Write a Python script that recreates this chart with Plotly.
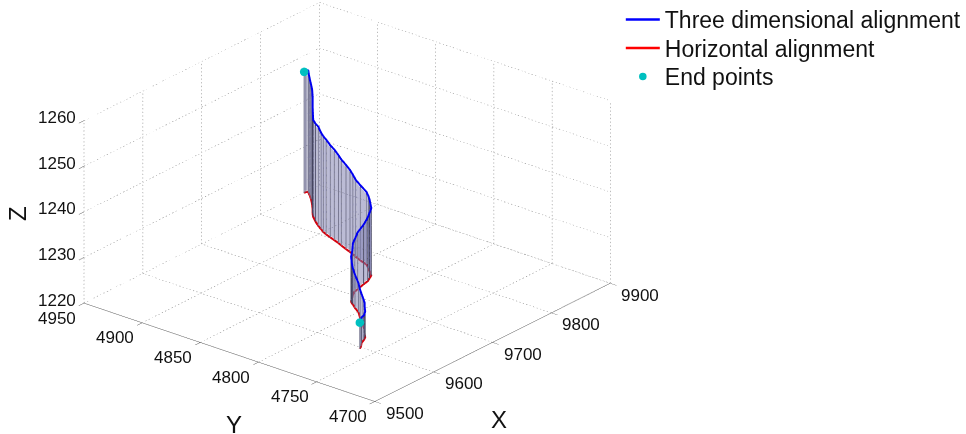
import numpy as np
import plotly.graph_objects as go

x_ticks = [9500, 9600, 9700, 9800, 9900]
y_ticks = [4700, 4750, 4800, 4850, 4900, 4950]
z_ticks = [1220, 1230, 1240, 1250, 1260]

road_x = [9872,9875,9877,9874,9870,9864,9854,9845,9837,9830,9822,9815,9810,9806,9803,9800,9797,9794,9791,9787,9784,9781,9778,9774,9770,9764,9758,9751,9744,9737,9728,9714,9707,9700,9693,9685,9682,9680,9674,9668,9657,9644,9637,9629,9622,9616,9608,9601,9595]
road_y = [4949,4949,4948,4946,4943,4939,4933,4928,4924,4920,4914,4908,4903,4899,4895,4890,4885,4880,4876,4870,4865,4861,4857,4851,4844,4839,4835,4830,4828,4826,4825,4823,4822,4820,4817,4814,4812,4810,4805,4799,4792,4783,4778,4774,4770,4768,4766,4763,4761]
road_z = [1246.7,1246.8,1246.8,1246.3,1245.6,1245.3,1245.3,1244.6,1243.5,1241.4,1241.6,1241.9,1241.3,1241.1,1240.9,1240.3,1240.0,1239.4,1239.0,1238.6,1238.1,1237.6,1237.0,1236.6,1236.1,1235.9,1235.8,1234.9,1234.5,1234.1,1233.2,1232.6,1231.6,1231.4,1230.5,1229.9,1229.1,1228.1,1227.4,1226.5,1226.3,1226.2,1226.0,1226.0,1225.8,1225.5,1225.8,1225.8,1225.9]
base_z = 1220.15
dark_stations = [6, 7, 8, 9, 10, 26, 27, 28, 29, 30, 34, 35, 36, 37, 44, 45, 46]

FONT = "Liberation Sans, Arial, sans-serif"
TXT = "#111111"
fig = go.Figure()

gx, gy, gz = [], [], []
def seg(a, b, n):
    a = np.array(a, float); b = np.array(b, float)
    for i in range(n):
        p = a + (b - a) * i / n
        q = a + (b - a) * (i + 0.35) / n
        gx.extend([p[0], q[0], None]); gy.extend([p[1], q[1], None]); gz.extend([p[2], q[2], None])
for v in x_ticks:
    seg((v, y_ticks[0], z_ticks[0]), (v, y_ticks[-1], z_ticks[0]), 85)
    seg((v, y_ticks[-1], z_ticks[0]), (v, y_ticks[-1], z_ticks[-1]), 50)
for v in y_ticks:
    seg((x_ticks[0], v, z_ticks[0]), (x_ticks[-1], v, z_ticks[0]), 72)
    seg((x_ticks[-1], v, z_ticks[0]), (x_ticks[-1], v, z_ticks[-1]), 50)
for v in z_ticks:
    seg((x_ticks[0], y_ticks[-1], v), (x_ticks[-1], y_ticks[-1], v), 72)
    seg((x_ticks[-1], y_ticks[-1], v), (x_ticks[-1], y_ticks[0], v), 85)
fig.add_trace(go.Scatter3d(x=gx, y=gy, z=gz, mode="lines", showlegend=False, hoverinfo="skip",
                           line=dict(color="#777777", width=1)))

# translucent curtain, kept a hair inside the two curves so it does not z-fight with them
fig.add_trace(go.Surface(x=[road_x, road_x], y=[road_y, road_y],
                         z=[[base_z + 0.4] * len(road_z), [v - 0.5 for v in road_z]],
                         surfacecolor=[[0] * len(road_z)] * 2,
                         colorscale=[[0, "#7979ad"], [1, "#7979ad"]], showscale=False,
                         hoverinfo="skip", opacity=0.5,
                         lighting=dict(ambient=1, diffuse=0, specular=0, fresnel=0)))

def drops(indices, color):
    dx, dy, dz = [], [], []
    for i in indices:
        dx.extend([road_x[i], road_x[i], None]); dy.extend([road_y[i], road_y[i], None]); dz.extend([base_z, road_z[i], None])
    fig.add_trace(go.Scatter3d(x=dx, y=dy, z=dz, mode="lines", showlegend=False, hoverinfo="skip",
                               line=dict(color=color, width=2)))
drops([i for i in range(len(road_x)) if i not in dark_stations], "#7a7a92")
drops(dark_stations, "#454560")

fig.add_trace(go.Scatter3d(x=road_x, y=road_y, z=road_z, mode="lines",
                           name="Three dimensional alignment", line=dict(color="#0000f0", width=4)))
fig.add_trace(go.Scatter3d(x=road_x, y=road_y, z=[base_z] * len(road_z), mode="lines",
                           name="Horizontal alignment", line=dict(color="#d8000c", width=4)))
fig.add_trace(go.Scatter3d(x=[road_x[0], road_x[-1]], y=[road_y[0], road_y[-1]], z=[road_z[0], road_z[-1]],
                           mode="markers", name="End points", marker=dict(color="#00c0c0", size=5)))

def axis(ticks, line=True):
    return dict(title=dict(text=""),
                range=[ticks[0], ticks[-1]], tickmode="array", tickvals=ticks, showticklabels=False,
                showgrid=False, zeroline=False, showbackground=False, showspikes=False,
                showline=line, linecolor="#555555", linewidth=1,
                ticks="outside", ticklen=8, tickcolor="#555555", tickwidth=1)

tick_font = dict(size=17, color=TXT, family=FONT)
scene_notes = []
for v in z_ticks:
    scene_notes.append(dict(x=x_ticks[0], y=y_ticks[-1], z=v, text=str(v), showarrow=False, font=tick_font, xshift=-27, yshift=3))
for v in y_ticks:
    scene_notes.append(dict(x=x_ticks[0], y=v, z=z_ticks[0], text=str(v), showarrow=False, font=tick_font, xshift=-27, yshift=-15))
for v in x_ticks:
    scene_notes.append(dict(x=v, y=y_ticks[0], z=z_ticks[0], text=str(v), showarrow=False, font=tick_font, xshift=30, yshift=-12))

title_font = dict(size=24, color=TXT, family=FONT)
def title(text, px, py, angle=0):
    return dict(text=text, x=px / 966, y=1 - py / 434, xref="paper", yref="paper", xanchor="center", yanchor="middle",
                showarrow=False, textangle=angle, font=title_font)

D = 1.5
eye_dir = (-0.704, -0.578, 0.412)
center = (0.3680, -0.4932, -0.0632)
fig.update_layout(
    width=966, height=434, margin=dict(l=0, r=0, t=0, b=0), paper_bgcolor="white",
    font=dict(family=FONT),
    scene=dict(domain=dict(x=[0, 1], y=[0, 1]),
               xaxis=axis(x_ticks), yaxis=axis(y_ticks), zaxis=axis(z_ticks, line=False),
               aspectmode="manual", aspectratio=dict(x=1.71, y=1.734, z=0.923),
               annotations=scene_notes,
               camera=dict(projection=dict(type="orthographic"), up=dict(x=0, y=0, z=1),
                           center=dict(x=center[0], y=center[1], z=center[2]),
                           eye=dict(x=center[0] + D * eye_dir[0], y=center[1] + D * eye_dir[1], z=center[2] + D * eye_dir[2]))),
    legend=dict(x=0.646, y=1.0, xanchor="left", yanchor="top", font=dict(size=23, color=TXT, family=FONT),
                bgcolor="rgba(0,0,0,0)", itemwidth=34, tracegroupgap=0),
    annotations=[title("X", 502, 419), title("Y", 235, 424), title("Z", 17, 213, -90)],
)
post = """document.body.style.margin='0';document.body.style.overflow='hidden';
document.querySelectorAll('.legend .traces').forEach(function(t,i){
  t.setAttribute('transform','translate(0,'+(19.5+28.5*i)+')');
  t.querySelectorAll('path.js-line').forEach(function(p){p.style.strokeWidth='2.5px';
    if(i==0)p.style.stroke='rgb(0,0,255)'; if(i==1)p.style.stroke='rgb(255,0,0)';});
  t.querySelectorAll('.legendpoints path').forEach(function(p){
    p.setAttribute('transform',(p.getAttribute('transform')||'')+' scale(1.5)');});
});"""
fig.write_html("out.html", config=dict(displayModeBar=False), post_script=post)
